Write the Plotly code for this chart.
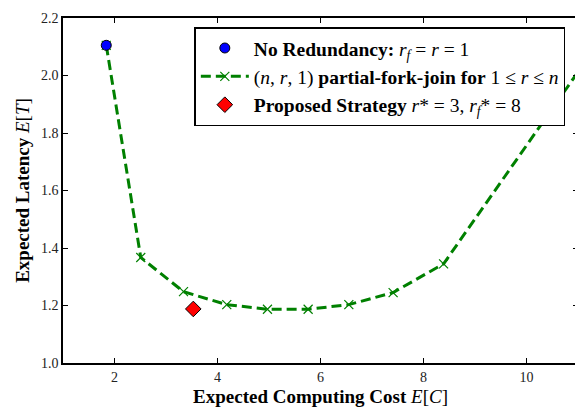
import plotly.graph_objects as go

# Data
no_red_cost = [1.84]
no_red_lat = [2.105]

pfj_cost = [1.84, 2.51, 3.34, 4.18, 4.97, 5.76, 6.55, 7.41, 8.39, 11.5]
pfj_lat = [2.105, 1.367, 1.248, 1.203, 1.187, 1.187, 1.203, 1.245, 1.345, 2.14]

prop_cost = [3.53]
prop_lat = [1.188]

x_ticks = [2, 4, 6, 8, 10]
y_ticks = [1.0, 1.2, 1.4, 1.6, 1.8, 2.0, 2.2]

FONT = "Liberation Serif"

fig = go.Figure()

fig.add_trace(go.Scatter(
    x=pfj_cost, y=pfj_lat, mode="lines+markers",
    name="(<i>n</i>, <i>r</i>, 1) <b>partial-fork-join for</b> 1 ≤ <i>r</i> ≤ <i>n</i>",
    line=dict(color="#008000", width=3, dash="10px,5px"),
    marker=dict(symbol="x-thin", size=9, line=dict(color="#008000", width=1.2)),
    legendrank=2,
))
fig.add_trace(go.Scatter(
    x=no_red_cost, y=no_red_lat, mode="markers",
    name="<b>No Redundancy:</b> <i>r<sub>f</sub></i> = <i>r</i> = 1",
    marker=dict(symbol="circle", size=10, color="#0000ff", line=dict(color="black", width=1)),
    legendrank=1,
))
fig.add_trace(go.Scatter(
    x=prop_cost, y=prop_lat, mode="markers",
    name="<b>Proposed Strategy</b> <i>r</i>* = 3, <i>r<sub>f</sub></i>* = 8",
    marker=dict(symbol="diamond", size=12, color="#ff0000", line=dict(color="black", width=1)),
    legendrank=3,
))

axis_common = dict(
    showline=True, linecolor="black", linewidth=1.5, mirror="ticks",
    ticks="inside", ticklen=5, tickwidth=1, tickcolor="black",
    showgrid=False, zeroline=False,
    tickfont=dict(family=FONT, size=14, color="#222222"),
)

# page body has an 8px margin, so the figure is shrunk to fit the window
fig.update_layout(
    width=575, height=402,
    margin=dict(l=55, r=3, t=8, b=47),
    paper_bgcolor="white", plot_bgcolor="white",
    font=dict(family=FONT, color="black"),
    showlegend=True,
    legend=dict(
        x=0.255, y=0.973, xanchor="left", yanchor="top",
        bgcolor="white", bordercolor="black", borderwidth=1.5,
        font=dict(family=FONT, size=19.5, color="black"),
        tracegroupgap=0, itemwidth=48,
    ),
    xaxis=dict(
        range=[1, 11], tickvals=x_ticks, ticktext=[str(v) for v in x_ticks],
        title=dict(text="<b>Expected Computing Cost</b> <i>E</i>[<i>C</i>]",
                   font=dict(family=FONT, size=19), standoff=6),
        **axis_common,
    ),
    yaxis=dict(
        range=[1.0, 2.2], tickvals=y_ticks, ticktext=[f"{v:.1f}" for v in y_ticks],
        title=dict(text="<b>Expected Latency</b> <i>E</i>[<i>T</i>]",
                   font=dict(family=FONT, size=19), standoff=6),
        **axis_common,
    ),
)

fig.write_html("out.html")
